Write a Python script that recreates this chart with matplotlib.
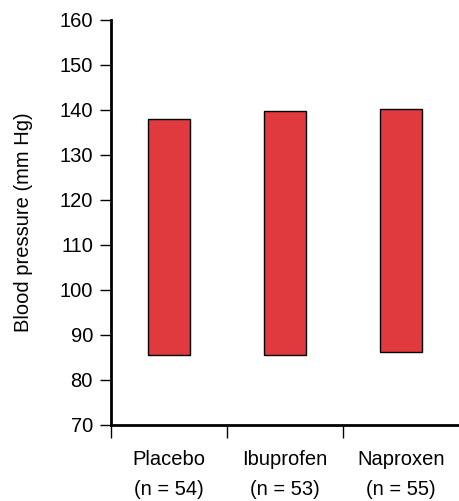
import matplotlib.pyplot as plt

plt.rcParams['font.family'] = ['Liberation Sans', 'DejaVu Sans']

groups = ["Placebo\n(n = 54)", "Ibuprofen\n(n = 53)", "Naproxen\n(n = 55)"]
low = [85.5, 85.5, 86.2]
high = [138.0, 139.7, 140.2]

fig = plt.figure(figsize=(4.59, 5.01), dpi=100)
ax = fig.add_axes([0.2418, 0.1517, 0.7582, 0.8084])

x = range(len(groups))
heights = [h - l for h, l in zip(high, low)]
ax.bar(x, heights, bottom=low, width=0.36, color='#E0393E',
       edgecolor='black', linewidth=1.0)

ax.set_xlim(-0.5, 2.5)
ax.set_ylim(70, 160)
ax.set_yticks(range(70, 161, 10))
ax.set_xticks(list(x))
ax.set_xticklabels(groups, fontsize=14.5, linespacing=1.75)
ax.set_xticks([-0.5, 0.5, 1.5], minor=True)
ax.tick_params(axis='x', which='major', length=0, pad=18)
ax.tick_params(axis='x', which='minor', length=9, width=1.0, direction='out')
ax.tick_params(axis='y', labelsize=14.5, length=8, width=1.0, pad=5)
ax.set_ylabel("Blood pressure (mm Hg)", fontsize=14.5, labelpad=19)

for s in ['top', 'right']:
    ax.spines[s].set_visible(False)
ax.spines['left'].set_linewidth(2.0)
ax.spines['bottom'].set_linewidth(2.0)

fig.savefig("out.png", dpi=100)
